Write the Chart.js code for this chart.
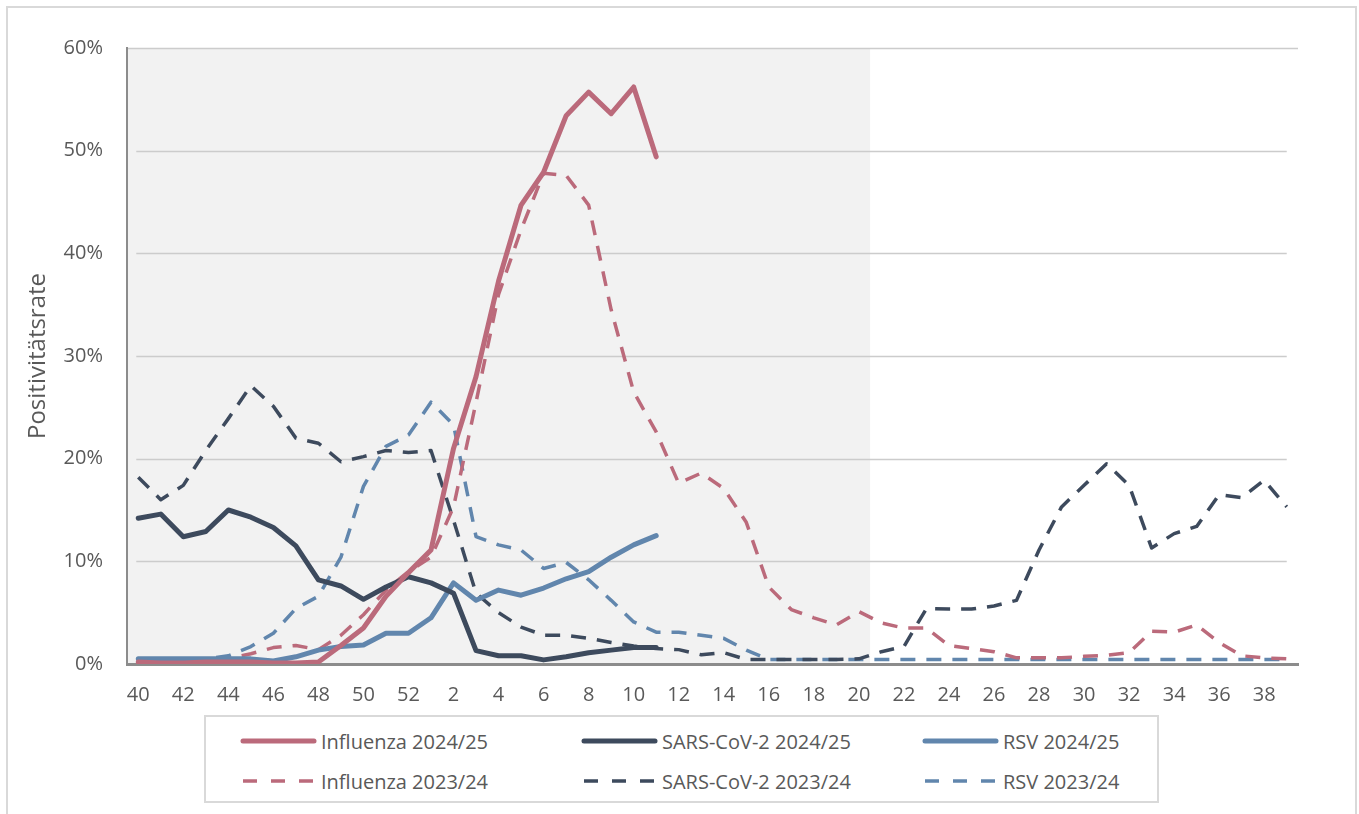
<!DOCTYPE html>
<html lang="de">
<head>
<meta charset="utf-8">
<title>Positivitätsrate</title>
<script src="https://cdn.jsdelivr.net/npm/chart.js@4.4.1/dist/chart.umd.min.js"></script>
<style>
  html, body { margin: 0; padding: 0; background: #fff; overflow: hidden; }
  body { width: 1359px; height: 814px; position: relative; font-family: 'Open Sans', sans-serif; }
  #frame { position: absolute; left: 6px; top: 6px; width: 1351px; height: 830px; border: 2px solid #d9d9d9; box-sizing: border-box; }
  #chart { position: absolute; left: 0; top: 0; }
  #legend { position: absolute; left: 204px; top: 715px; width: 955px; height: 88px; border: 2px solid #d9d9d9; box-sizing: border-box; background: #fff; }
  .item { position: absolute; height: 30px; display: flex; align-items: center; color: #595959; font-size: 20px; white-space: nowrap; }
  .item svg { margin-right: 3px; }
</style>
</head>
<body>
<div id="frame"></div>
<canvas id="chart" width="1359" height="814"></canvas>
<div id="legend"></div>
<script>
// Kalenderwochen 40..52, 1..39
const weeks = [40, 41, 42, 43, 44, 45, 46, 47, 48, 49, 50, 51, 52,
  1, 2, 3, 4, 5, 6, 7, 8, 9, 10, 11, 12, 13, 14, 15, 16, 17, 18, 19, 20,
  21, 22, 23, 24, 25, 26, 27, 28, 29, 30, 31, 32, 33, 34, 35, 36, 37, 38, 39];

// Saison 2024/25 (bis KW 11)
const influenza2425 = [0.2, 0.1, 0.1, 0.2, 0.2, 0.2, 0.1, 0.1, 0.2, 1.8, 3.5, 6.6, 8.9,
  11.1, 21.0, 28.0, 37.3, 44.7, 47.9, 53.4, 55.7, 53.6, 56.2, 49.4];
const sars2425 = [14.2, 14.6, 12.4, 12.9, 15.0, 14.3, 13.3, 11.5, 8.2, 7.6, 6.3, 7.5, 8.5,
  7.9, 6.9, 1.3, 0.8, 0.8, 0.4, 0.7, 1.1, 1.35, 1.6, 1.6];
const rsv2425 = [0.5, 0.5, 0.5, 0.5, 0.5, 0.5, 0.3, 0.7, 1.35, 1.7, 1.85, 3.0, 3.0,
  4.5, 7.9, 6.2, 7.2, 6.7, 7.4, 8.3, 9.0, 10.4, 11.6, 12.5];

// Saison 2023/24
const influenza2324 = [0.2, 0.1, 0.1, 0.3, 0.5, 1.0, 1.6, 1.8, 1.4, 2.8, 4.8, 7.2, 9.0,
  10.4, 15.3, 25.5, 36.0, 42.3, 47.8, 47.6, 44.7, 34.5, 26.5, 22.6, 17.6, 18.6, 17.1, 13.8,
  7.5, 5.3, 4.5, 3.8, 5.1, 4.0, 3.5, 3.5, 1.8, 1.5, 1.2, 0.6, 0.6, 0.6, 0.75, 0.85, 1.1,
  3.2, 3.1, 3.8, 2.1, 0.8, 0.6, 0.5];
const sars2324 = [18.2, 16.0, 17.4, 20.8, 23.9, 27.1, 25.1, 22.0, 21.5, 19.7, 20.2, 20.8, 20.6,
  20.8, 14.0, 6.9, 5.0, 3.6, 2.8, 2.8, 2.5, 2.1, 1.75, 1.5, 1.4, 0.9, 1.1, 0.45, 0.45, 0.45,
  0.45, 0.45, 0.5, 1.2, 1.7, 5.4, 5.35, 5.35, 5.65, 6.2, 11.1, 15.3, 17.4, 19.5, 17.4, 11.3,
  12.7, 13.4, 16.5, 16.2, 17.9, 15.3];
const rsv2324 = [0.5, 0.5, 0.5, 0.5, 0.8, 1.7, 3.0, 5.4, 6.6, 10.4, 17.3, 21.2, 22.3,
  25.5, 23.3, 12.4, 11.6, 11.1, 9.3, 9.9, 8.2, 6.2, 4.1, 3.1, 3.1, 2.8, 2.5, 1.35, 0.45,
  0.45, 0.45, 0.45, 0.45, 0.45, 0.45, 0.45, 0.45, 0.45, 0.45, 0.45, 0.45, 0.45, 0.45, 0.45,
  0.45, 0.45, 0.45, 0.45, 0.45, 0.45, 0.45, 0.45];

const yTicks = [0, 10, 20, 30, 40, 50, 60];
const shadeUntilWeek = 20; // grau hinterlegt: KW 40 bis KW 20

const RED = '#bb6a7b';
const DARK = '#3d4a5d';
const BLUE = '#6186ad';
const TEXT = '#595959';
const DASH = [15, 11];

Chart.defaults.font.family = "'Open Sans', sans-serif";
Chart.defaults.color = TEXT;

function solid(label, data, color) {
  return { label, data, borderColor: color, backgroundColor: color, borderWidth: 5,
    borderCapStyle: 'round', borderJoinStyle: 'round', pointRadius: 0, tension: 0, fill: false };
}
function dashed(label, data, color) {
  return { label, data, borderColor: color, backgroundColor: color, borderWidth: 3.5,
    borderDash: DASH, borderJoinStyle: 'round', pointRadius: 0, tension: 0, fill: false };
}

const datasets = [
  solid('Influenza 2024/25', influenza2425, RED),
  solid('SARS-CoV-2 2024/25', sars2425, DARK),
  solid('RSV 2024/25', rsv2425, BLUE),
  dashed('Influenza 2023/24', influenza2324, RED),
  dashed('SARS-CoV-2 2023/24', sars2324, DARK),
  dashed('RSV 2023/24', rsv2324, BLUE)
];

// grauer Hintergrund + Gitterlinien
const backdrop = {
  id: 'backdrop',
  beforeDraw(chart) {
    const { ctx, chartArea, scales: { x, y } } = chart;
    const idx = weeks.indexOf(shadeUntilWeek);
    const right = (x.getPixelForValue(idx) + x.getPixelForValue(idx + 1)) / 2;
    ctx.save();
    ctx.fillStyle = '#f2f2f2';
    ctx.fillRect(chartArea.left, chartArea.top, right - chartArea.left, chartArea.bottom - chartArea.top);

    ctx.strokeStyle = '#cccccc';
    ctx.lineWidth = 1.3;
    const x0 = x.getPixelForValue(0) - 2;
    const x1 = x.getPixelForValue(weeks.length - 1);
    yTicks.forEach(v => {
      if (v === 0) return;
      const py = Math.round(y.getPixelForValue(v)) + 0.5;
      ctx.beginPath();
      if (v === yTicks[yTicks.length - 1]) {
        ctx.moveTo(chartArea.left, py);
        ctx.lineTo(chartArea.right, py);
      } else {
        ctx.moveTo(x0, py);
        ctx.lineTo(x1, py);
      }
      ctx.stroke();
    });
    ctx.restore();
  }
};

const chart = new Chart(document.getElementById('chart'), {
  type: 'line',
  data: { labels: weeks, datasets },
  plugins: [backdrop],
  options: {
    responsive: false,
    animation: false,
    layout: { padding: { left: 24, top: 48, right: 61, bottom: 0 } },
    plugins: { legend: { display: false }, tooltip: { enabled: false } },
    scales: {
      x: {
        offset: true,
        grid: { display: false, drawTicks: false },
        border: { display: true, color: '#8c8c8c', width: 3 },
        ticks: {
          autoSkip: false, maxRotation: 0, padding: 19,
          font: { size: 20 }, color: TEXT,
          callback: (v, i) => (i % 2 === 0 ? weeks[i] : '')
        },
        afterFit: s => { s.height = 150; }
      },
      y: {
        min: 0, max: 60,
        grid: { display: false, drawTicks: false },
        border: { display: true, color: '#8c8c8c', width: 2 },
        ticks: { stepSize: 10, padding: 24, font: { size: 20 }, color: TEXT,
          callback: v => v + '%' },
        title: { display: true, text: 'Positivitätsrate', font: { size: 24 }, color: TEXT,
          padding: 0 },
        afterFit: s => { s.width = 103; }
      }
    }
  }
});

// Legende (3 Spalten, 2 Zeilen)
const legend = document.getElementById('legend');
const colX = [34, 375, 716];
const rowY = [9, 49];
datasets.forEach((ds, i) => {
  const item = document.createElement('div');
  item.className = 'item';
  item.style.left = colX[i % 3] + 'px';
  item.style.top = rowY[Math.floor(i / 3)] + 'px';
  const isDashed = !!ds.borderDash;
  item.innerHTML = `
    <svg width="78" height="12"><line x1="3" y1="6" x2="74" y2="6" stroke="${ds.borderColor}"
      stroke-width="${ds.borderWidth}" stroke-linecap="${isDashed ? 'butt' : 'round'}"
      ${isDashed ? 'stroke-dasharray="14 14"' : ''}/></svg>
    <span>${ds.label}</span>`;
  legend.appendChild(item);
});
</script>
</body>
</html>
